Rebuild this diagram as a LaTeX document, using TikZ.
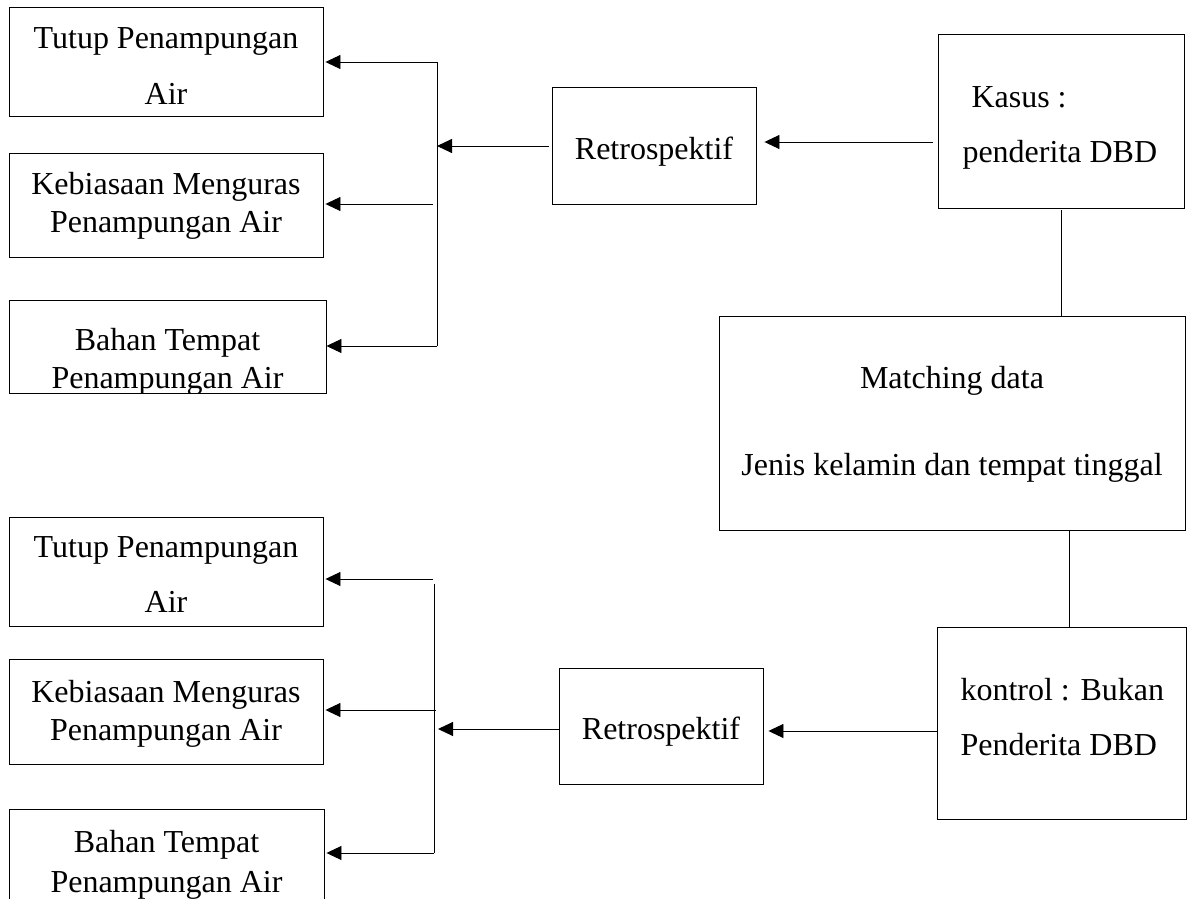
\documentclass[tikz,border=0pt]{standalone}
\usepackage{fontspec}
\setmainfont{Liberation Serif}
\usetikzlibrary{arrows.meta}
\tikzset{
	box/.style 2 args={draw, line width=0.9pt, inner sep=0pt, minimum width=#1pt, minimum height=#2pt}, % plain framed box
	txt/.style={anchor=base, align=center, font=\fontsize{32}{38}\selectfont}, % box text, placed by its last baseline
	arr/.style={-{Triangle[length=15pt,width=14pt]}, line width=0.9pt}, % filled arrow head
	ln/.style={line width=0.9pt},
}
\begin{document}
\begin{tikzpicture}[x=1pt, y=-1pt]
	\useasboundingbox (0,0) rectangle (1195,899);
	\clip (0,0) rectangle (1195,899);
	
	% Kasus side
	\node[box={246}{174}] (kasus) at (1061,121) {};
	\node[txt, align=left, anchor=base west] (tkasus) at (959,162) {\hspace*{9pt}Kasus :\\[17pt]penderita DBD};
	\node[box={204}{117}] (r1) at (654,145.5) {};
	\node[txt] (tr1) at (654,159) {Retrospektif};
	\node[box={314}{109}] (b1) at (166,61.5) {};
	\node[txt] (tb1) at (166,104) {Tutup Penampungan\\[17pt]Air};
	\node[box={314}{104}] (b2) at (166,205) {};
	\node[txt] (tb2) at (166,232) {Kebiasaan Menguras\\Penampungan Air};
	\node[box={317}{93}] (b3) at (167.5,346.5) {};
	\begin{scope}
		\clip (b3.north west) rectangle (b3.south east);
		\node[txt] (tb3) at (167.5,388) {Bahan Tempat\\Penampungan Air};
	\end{scope}
	
	% Matching
	\node[box={466}{214}] (match) at (952,423) {};
	\node[txt] (tmatch) at (952,475) {Matching data\\[49pt]Jenis kelamin dan tempat tinggal};
	
	% Kontrol side
	\node[box={249}{192}] (kontrol) at (1061.5,723) {};
	\node[txt, align=left, anchor=base west] (tkontrol) at (957,755) {kontrol : Bukan\\[17pt]Penderita DBD};
	\node[box={204}{116}] (r2) at (661,726) {};
	\node[txt] (tr2) at (661,739) {Retrospektif};
	\node[box={314}{109}] (b4) at (166,571.5) {};
	\node[txt] (tb4) at (166,612) {Tutup Penampungan\\[17pt]Air};
	\node[box={314}{105}] (b5) at (166,711.5) {};
	\node[txt] (tb5) at (166,740) {Kebiasaan Menguras\\Penampungan Air};
	\node[box={315}{140}] (b6) at (166.5,879) {};
	\node[txt] (tb6) at (166.5,892) {Bahan Tempat\\[2pt]Penampungan Air};
	
	% branch points
	\coordinate (top1) at (437,62);
	\coordinate (mid1) at (433,204);
	\coordinate (bot1) at (437,346);
	\coordinate (in1) at (437,146);
	\coordinate (top2) at (433,579);
	\coordinate (mid2) at (436,710);
	\coordinate (bot2) at (434,853);
	\coordinate (in2) at (434,729);
	
	% connectors, upper half
	\draw[arr, shorten <=5pt, shorten >=8pt] (kasus.west |- 0,142) -- (r1.east |- 0,142);
	\draw[arr, shorten <=3pt] (in1 -| r1.west) -- (in1);
	\draw[ln] (top1) -- (bot1);
	\draw[arr, shorten >=2pt] (top1) -- (top1 -| b1.east);
	\draw[arr, shorten >=2pt] (mid1) -- (mid1 -| b2.east);
	\draw[arr] (bot1) -- (bot1 -| b3.east);
	\draw[ln, shorten <=2pt] (kasus.south) -- (kasus.south |- match.north);
	
	% connectors, lower half
	\draw[ln] (match.south -| 1069,0) -- (kontrol.north -| 1069,0);
	\draw[arr, shorten >=5pt] (kontrol.west |- 0,731) -- (r2.east |- 0,731);
	\draw[arr, shorten >=4pt] (in2 -| r2.west) -- (in2);
	\draw[ln] (434,584) -- (bot2);
	\draw[arr, shorten >=2pt] (top2) -- (top2 -| b4.east);
	\draw[arr, shorten >=2pt] (mid2) -- (mid2 -| b5.east);
	\draw[arr, shorten >=2pt] (bot2) -- (bot2 -| b6.east);
	
\end{tikzpicture}
\end{document}
